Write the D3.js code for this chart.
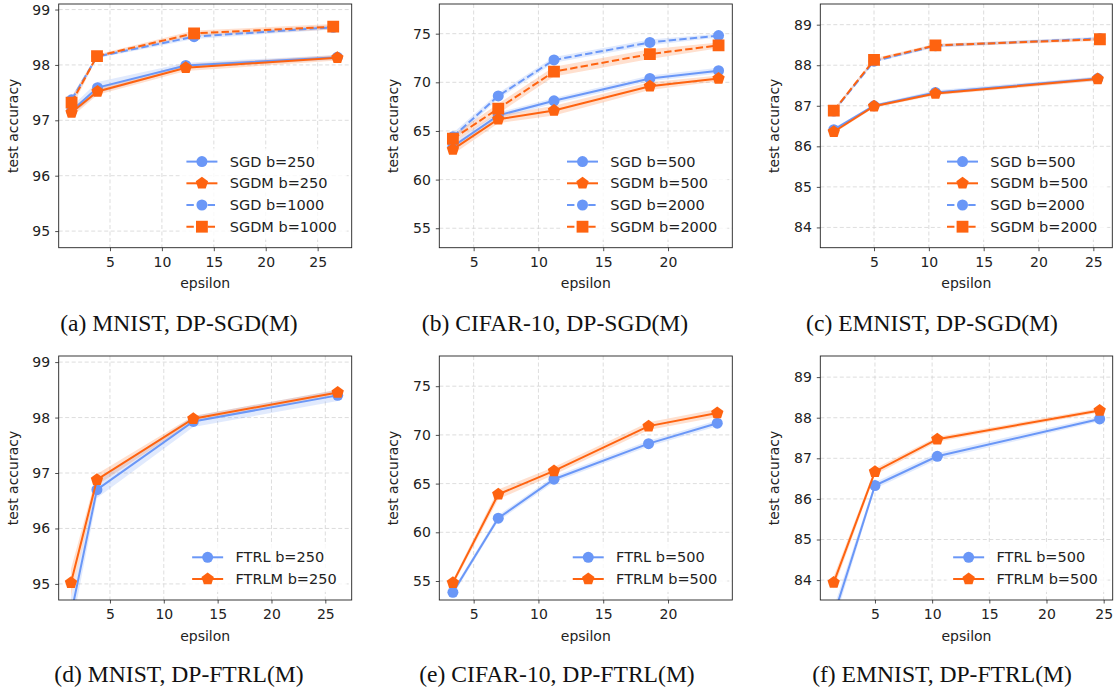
<!DOCTYPE html>
<html>
<head>
<meta charset="utf-8">
<script src="https://cdn.jsdelivr.net/npm/d3@7"></script>
<style>
	body { margin: 0; background: #fff; }
	svg { display: block; }
</style>
</head>
<body>
<svg id="chart" width="1114" height="688"></svg>
<script>
// ---- data ----

// (a) MNIST, DP-SGD(M)
const epsA250 = [1.3, 3.8, 12.3, 26.9]
const epsA1000 = [1.3, 3.75, 13.1, 26.5]
const accASgd250 = [97.17, 97.59, 97.99, 98.14]
const accASgdm250 = [97.14, 97.52, 97.95, 98.13]
const accASgd1000 = [97.37, 98.15, 98.51, 98.68]
const accASgdm1000 = [97.32, 98.16, 98.57, 98.69]
const stdASgd250 = [0.08, 0.10, 0.05, 0.04]
const stdASgdm250 = [0.08, 0.06, 0.06, 0.05]
const stdASgd1000 = [0.06, 0.03, 0.04, 0.04]
const stdASgdm1000 = [0.10, 0.03, 0.05, 0.05]

// (b) CIFAR-10, DP-SGD(M)
const epsB = [3.4, 6.9, 11.2, 18.6, 23.9]
const accBSgd500 = [63.4, 66.6, 68.1, 70.4, 71.2]
const accBSgdm500 = [63.1, 66.2, 67.1, 69.6, 70.4]
const accBSgd2000 = [64.4, 68.6, 72.3, 74.1, 74.8]
const accBSgdm2000 = [64.2, 67.3, 71.1, 72.9, 73.8]
const stdBSgd500 = [0.4, 0.3, 0.3, 0.3, 0.3]
const stdBSgdm500 = [0.5, 0.4, 0.5, 0.4, 0.3]
const stdBSgd2000 = [0.4, 0.3, 0.3, 0.3, 0.2]
const stdBSgdm2000 = [0.4, 0.5, 0.5, 0.5, 0.3]

// (c) EMNIST, DP-SGD(M)
const epsC500 = [1.33, 5.0, 10.6, 25.4]
const epsC2000 = [1.33, 5.0, 10.6, 25.6]
const accCSgd500 = [86.41, 87.0, 87.33, 87.67]
const accCSgdm500 = [86.36, 86.99, 87.3, 87.66]
const accCSgd2000 = [86.87, 88.1, 88.48, 88.66]
const accCSgdm2000 = [86.88, 88.13, 88.49, 88.64]
const stdCSgd500 = [0.04, 0.04, 0.05, 0.05]
const stdCSgdm500 = [0.04, 0.04, 0.04, 0.05]
const stdCSgd2000 = [0.03, 0.03, 0.04, 0.04]
const stdCSgdm2000 = [0.04, 0.04, 0.04, 0.04]

// (d) MNIST, DP-FTRL(M)
const epsD = [1.38, 3.79, 12.74, 26.15]
const accDFtrl = [94.45, 96.70, 97.93, 98.40]
const accDFtrlm = [95.02, 96.88, 97.98, 98.45]
const stdDFtrl = [0.30, 0.15, 0.10, 0.10]
const stdDFtrlm = [0.25, 0.10, 0.05, 0.05]

// (e) CIFAR-10, DP-FTRL(M)
const epsE = [3.4, 6.9, 11.2, 18.5, 23.8]
const accEFtrl = [53.84, 61.45, 65.45, 69.1, 71.2]
const accEFtrlm = [54.83, 63.9, 66.3, 70.9, 72.25]
const stdEFtrl = [0.3, 0.3, 0.3, 0.3, 0.3]
const stdEFtrlm = [0.3, 0.5, 0.4, 0.4, 0.4]

// (f) EMNIST, DP-FTRL(M)
const epsF = [1.39, 5.0, 10.45, 24.65]
const accFFtrl = [83.12, 86.33, 87.05, 87.97]
const accFFtrlm = [83.94, 86.67, 87.47, 88.18]
const stdFFtrl = [0.20, 0.08, 0.08, 0.06]
const stdFFtrlm = [0.15, 0.08, 0.06, 0.05]

const ticksMnist = [95, 96, 97, 98, 99]
const ticksCifar = [55, 60, 65, 70, 75]
const ticksEmnist = [84, 85, 86, 87, 88, 89]
const xTicksWide = [5, 10, 15, 20, 25]
const xTicksCifar = [5, 10, 15, 20]

// ---- styles ----
const BLUE = "#6a97f7"
const ORANGE = "#fe6310"
const FONT = "DejaVu Sans, sans-serif"

// pentagon marker for d3.symbol
const symbolPentagon = {
	draw(ctx, size) {
		const r = Math.sqrt(size / 2.378)
		for (let k = 0; k < 5; k++) {
			const a = -Math.PI / 2 + k * 2 * Math.PI / 5
			const px = r * Math.cos(a), py = r * Math.sin(a)
			if (k === 0) ctx.moveTo(px, py); else ctx.lineTo(px, py)
		}
		ctx.closePath()
	}
}

const mk = {
	circle: d3.symbol().type(d3.symbolCircle).size(95)(),
	pentagon: d3.symbol().type(symbolPentagon).size(100)(),
	square: d3.symbol().type(d3.symbolSquare).size(140)()
}

const series = (label, xs, ys, sd, color, marker, dashed) => ({ label, xs, ys, sd, color, marker, dashed })

const panels = [
	{
		box: [58.7, 4, 351.7, 247.7], xDomain: [0.06, 28.28], yDomain: [94.70, 99.10],
		xTicks: xTicksWide, yTicks: ticksMnist, caption: "(a) MNIST, DP-SGD(M)", capX: 179, capY: 331,
		series: [
			series("SGD b=250", epsA250, accASgd250, stdASgd250, BLUE, "circle", false),
			series("SGDM b=250", epsA250, accASgdm250, stdASgdm250, ORANGE, "pentagon", false),
			series("SGD b=1000", epsA1000, accASgd1000, stdASgd1000, BLUE, "circle", true),
			series("SGDM b=1000", epsA1000, accASgdm1000, stdASgdm1000, ORANGE, "square", true)
		]
	},
	{
		box: [439.3, 4, 732.3, 247.7], xDomain: [2.35, 24.96], yDomain: [53.0, 78.05],
		xTicks: xTicksCifar, yTicks: ticksCifar, caption: "(b) CIFAR-10, DP-SGD(M)", capX: 555, capY: 331,
		series: [
			series("SGD b=500", epsB, accBSgd500, stdBSgd500, BLUE, "circle", false),
			series("SGDM b=500", epsB, accBSgdm500, stdBSgdm500, ORANGE, "pentagon", false),
			series("SGD b=2000", epsB, accBSgd2000, stdBSgd2000, BLUE, "circle", true),
			series("SGDM b=2000", epsB, accBSgdm2000, stdBSgdm2000, ORANGE, "square", true)
		]
	},
	{
		box: [820.3, 4, 1112.3, 247.7], xDomain: [0.1, 26.73], yDomain: [83.5, 89.51],
		xTicks: xTicksWide, yTicks: ticksEmnist, caption: "(c) EMNIST, DP-SGD(M)", capX: 932, capY: 331,
		series: [
			series("SGD b=500", epsC500, accCSgd500, stdCSgd500, BLUE, "circle", false),
			series("SGDM b=500", epsC500, accCSgdm500, stdCSgdm500, ORANGE, "pentagon", false),
			series("SGD b=2000", epsC2000, accCSgd2000, stdCSgd2000, BLUE, "circle", true),
			series("SGDM b=2000", epsC2000, accCSgdm2000, stdCSgdm2000, ORANGE, "square", true)
		]
	},
	{
		box: [58.7, 356, 351.7, 600], xDomain: [0.24, 27.45], yDomain: [94.71, 99.11],
		xTicks: xTicksWide, yTicks: ticksMnist, caption: "(d) MNIST, DP-FTRL(M)", capX: 179, capY: 682,
		series: [
			series("FTRL b=250", epsD, accDFtrl, stdDFtrl, BLUE, "circle", false),
			series("FTRLM b=250", epsD, accDFtrlm, stdDFtrlm, ORANGE, "pentagon", false)
		]
	},
	{
		box: [439.3, 356, 732.3, 600], xDomain: [2.35, 24.96], yDomain: [53.05, 78.1],
		xTicks: xTicksCifar, yTicks: ticksCifar, caption: "(e) CIFAR-10, DP-FTRL(M)", capX: 557, capY: 682,
		series: [
			series("FTRL b=500", epsE, accEFtrl, stdEFtrl, BLUE, "circle", false),
			series("FTRLM b=500", epsE, accEFtrlm, stdEFtrlm, ORANGE, "pentagon", false)
		]
	},
	{
		box: [820.3, 356, 1112.7, 600], xDomain: [0.22, 25.79], yDomain: [83.51, 89.52],
		xTicks: xTicksWide, yTicks: ticksEmnist, caption: "(f) EMNIST, DP-FTRL(M)", capX: 942, capY: 682,
		series: [
			series("FTRL b=500", epsF, accFFtrl, stdFFtrl, BLUE, "circle", false),
			series("FTRLM b=500", epsF, accFFtrlm, stdFFtrlm, ORANGE, "pentagon", false)
		]
	}
]

const svg = d3.select("#chart")

panels.forEach((p, pi) => {
	const [left, top, right, bottom] = p.box
	const x = d3.scaleLinear().domain(p.xDomain).range([left, right])
	const y = d3.scaleLinear().domain(p.yDomain).range([bottom, top])
	const g = svg.append("g")

	svg.append("clipPath").attr("id", "clip" + pi)
		.append("rect")
		.attr("x", left).attr("y", top)
		.attr("width", right - left).attr("height", bottom - top)

	// grid
	const grid = g.append("g")
		.style("stroke", "#d4d4d4").style("stroke-width", 0.8).style("stroke-dasharray", "4,2.5")
	p.xTicks.forEach(t => grid.append("line")
		.attr("x1", x(t)).attr("x2", x(t)).attr("y1", top).attr("y2", bottom))
	p.yTicks.forEach(t => grid.append("line")
		.attr("x1", left).attr("x2", right).attr("y1", y(t)).attr("y2", y(t)))

	// axes
	const xAxis = g.append("g")
		.attr("transform", `translate(0,${bottom})`)
		.call(d3.axisBottom(x).tickValues(p.xTicks).tickFormat(d3.format("d")).tickSize(3.5).tickPadding(6))
	const yAxis = g.append("g")
		.attr("transform", `translate(${left},0)`)
		.call(d3.axisLeft(y).tickValues(p.yTicks).tickFormat(d3.format("d")).tickSize(3.5).tickPadding(5))
	;[xAxis, yAxis].forEach(a => {
		a.select(".domain").remove()
		a.selectAll("line").style("stroke", "#222").style("stroke-width", 0.8)
		a.selectAll("text").style("font-family", FONT).style("font-size", "14px").style("fill", "#222")
	})

	// data layer
	const data = g.append("g").attr("clip-path", `url(#clip${pi})`)

	p.series.forEach(s => {
		const pts = s.xs.map((v, i) => ({ x: v, y: s.ys[i], sd: s.sd[i] }))
		data.append("path")
			.datum(pts)
			.attr("d", d3.area().x(d => x(d.x)).y0(d => y(d.y - d.sd)).y1(d => y(d.y + d.sd)))
			.style("fill", s.color)
			.style("opacity", 0.2)
	})

	p.series.forEach(s => {
		const pts = s.xs.map((v, i) => ({ x: v, y: s.ys[i] }))
		data.append("path")
			.datum(pts)
			.attr("d", d3.line().x(d => x(d.x)).y(d => y(d.y)))
			.style("fill", "none")
			.style("stroke", s.color)
			.style("stroke-width", 2)
			.style("stroke-dasharray", s.dashed ? "7.4,3.2" : null)
		data.selectAll(null)
			.data(pts)
			.enter()
			.append("path")
			.attr("d", mk[s.marker])
			.attr("transform", d => `translate(${x(d.x)},${y(d.y)})`)
			.style("fill", s.color)
	})

	// frame
	g.append("rect")
		.attr("x", left).attr("y", top)
		.attr("width", right - left).attr("height", bottom - top)
		.style("fill", "none").style("stroke", "#222").style("stroke-width", 0.9)

	// axis labels
	g.append("text")
		.attr("x", (left + right) / 2).attr("y", bottom + 40.5)
		.attr("text-anchor", "middle")
		.text("epsilon")
		.style("font-family", FONT).style("font-size", "14px").style("fill", "#222")
	g.append("text")
		.attr("transform", `translate(${left - 41},${(top + bottom) / 2}) rotate(-90)`)
		.attr("text-anchor", "middle")
		.text("test accuracy")
		.style("font-family", FONT).style("font-size", "14px").style("fill", "#222")

	// legend (lower right)
	const legend = g.append("g")
	const bg = legend.append("rect")
	const rowH = 21.7
	const n = p.series.length
	const labels = p.series.map((s, i) => legend.append("text")
		.attr("y", bottom - 21 - (n - 1 - i) * rowH)
		.attr("dy", "0.35em")
		.text(s.label)
		.style("font-family", FONT).style("font-size", "14.5px").style("fill", "#222"))
	const maxW = d3.max(labels, t => t.node().getComputedTextLength())
	const textX = right - 15 - maxW
	labels.forEach(t => t.attr("x", textX))
	p.series.forEach((s, i) => {
		const cy = bottom - 21 - (n - 1 - i) * rowH
		legend.append("line")
			.attr("x1", textX - 43.3).attr("x2", textX - 12.3)
			.attr("y1", cy).attr("y2", cy)
			.style("stroke", s.color).style("stroke-width", 2)
			.style("stroke-dasharray", s.dashed ? "7.4,3.2" : null)
		legend.append("path")
			.attr("d", mk[s.marker])
			.attr("transform", `translate(${textX - 27.8},${cy})`)
			.style("fill", s.color)
	})
	const topRow = bottom - 21 - (n - 1) * rowH
	bg.attr("x", textX - 50).attr("y", topRow - 13)
		.attr("width", right - 5 - (textX - 50)).attr("height", bottom - 21 + 13 - (topRow - 13))
		.attr("rx", 2)
		.style("fill", "#fff").style("opacity", 0.8)

	// caption
	svg.append("text")
		.attr("x", p.capX).attr("y", p.capY)
		.attr("text-anchor", "middle")
		.text(p.caption)
		.style("font-family", "Liberation Serif, Times New Roman, serif")
		.style("font-size", "23.6px")
		.style("fill", "#111")
})
</script>
</body>
</html>
